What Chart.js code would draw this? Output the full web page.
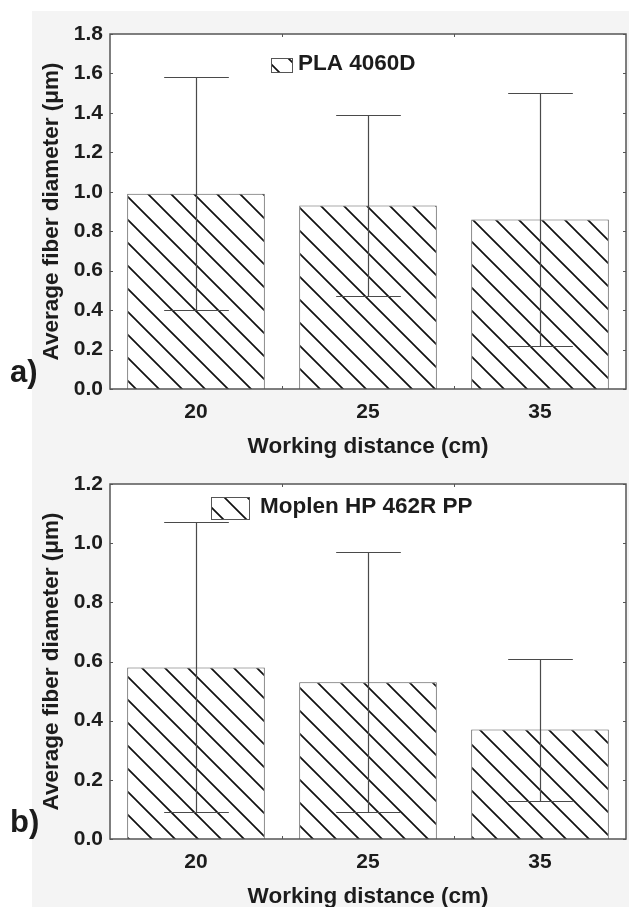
<!DOCTYPE html>
<html>
<head>
<meta charset="utf-8">
<script src="https://cdn.jsdelivr.net/npm/chart.js@4.4.1/dist/chart.umd.min.js"></script>
<style>
  html, body { margin: 0; padding: 0; background: #fff; }
  #page { position: relative; width: 629px; height: 907px; overflow: hidden; }
  #shade { position: absolute; left: 32px; top: 11px; right: 0; bottom: 0; background: #f4f4f4; }
  canvas { position: absolute; left: 0; }
  #chartA { top: 0; }
  #chartB { top: 457px; }
</style>
</head>
<body>
<div id="page">
  <div id="shade"></div>
  <canvas id="chartA" width="629" height="460"></canvas>
  <canvas id="chartB" width="629" height="453"></canvas>
</div>
<script>
// data
const distances = ['20', '25', '35'];

const plaMean = [0.99, 0.93, 0.86];
const plaLow = [0.40, 0.47, 0.22];
const plaHigh = [1.58, 1.39, 1.50];

const ppMean = [0.58, 0.53, 0.37];
const ppLow = [0.09, 0.09, 0.13];
const ppHigh = [1.07, 0.97, 0.61];

const FONT = "'Liberation Sans', Arial, sans-serif";
const INK = '#1c1c1c';
const FRAME = '#555';

// diagonal hatch fill "\\\"
const makeHatch = () => {
  const size = 23;
  const c = document.createElement('canvas');
  c.width = size;
  c.height = size;
  const g = c.getContext('2d');
  g.fillStyle = '#fff';
  g.fillRect(0, 0, size, size);
  g.strokeStyle = '#111';
  g.lineWidth = 1.7;
  g.beginPath();
  for (const k of [-size, 0, size]) {
    g.moveTo(k - 2, -2);
    g.lineTo(k + size + 2, size + 2);
  }
  g.stroke();
  return g.createPattern(c, 'repeat');
};

/**
 * frame, inward ticks, error bars, legend and panel letter
 */
const decor = {
  id: 'decor',
  beforeDraw: chart => {
    const {ctx, chartArea: a} = chart;
    ctx.save();
    ctx.fillStyle = '#fff';
    ctx.fillRect(a.left, a.top, a.right - a.left, a.bottom - a.top);
    ctx.restore();
  },
  afterDatasetsDraw: (chart, args, opts) => {
    const {ctx, chartArea: a} = chart;
    const x = chart.scales.x;
    const y = chart.scales.y;
    ctx.save();

    // error bars
    const meta = chart.getDatasetMeta(0);
    ctx.strokeStyle = '#4a4a4a';
    ctx.lineWidth = 1.2;
    meta.data.forEach((bar, i) => {
      const cx = Math.round(bar.x) + 0.5;
      const half = bar.width * 0.235;
      const yHi = Math.round(y.getPixelForValue(opts.high[i])) + 0.5;
      const yLo = Math.round(y.getPixelForValue(opts.low[i])) + 0.5;
      ctx.beginPath();
      ctx.moveTo(cx, yHi);
      ctx.lineTo(cx, yLo);
      ctx.moveTo(cx - half, yHi);
      ctx.lineTo(cx + half, yHi);
      ctx.moveTo(cx - half, yLo);
      ctx.lineTo(cx + half, yLo);
      ctx.stroke();
    });

    // frame
    ctx.strokeStyle = FRAME;
    ctx.lineWidth = 1.5;
    ctx.strokeRect(a.left, a.top, a.right - a.left, a.bottom - a.top);

    // inward ticks
    ctx.lineWidth = 1;
    ctx.beginPath();
    y.ticks.forEach(t => {
      const py = Math.round(y.getPixelForValue(t.value)) + 0.5;
      ctx.moveTo(a.left, py);
      ctx.lineTo(a.left + 3, py);
      ctx.moveTo(a.right, py);
      ctx.lineTo(a.right - 3, py);
    });
    for (let i = 0; i < distances.length - 1; i++) {
      const px = Math.round((x.getPixelForValue(i) + x.getPixelForValue(i + 1)) / 2) + 0.5;
      ctx.moveTo(px, a.top);
      ctx.lineTo(px, a.top + 3);
      ctx.moveTo(px, a.bottom);
      ctx.lineTo(px, a.bottom - 3);
    }
    ctx.stroke();

    // legend
    const lg = opts.legend;
    const bx = a.left + lg.dx;
    const by = a.top + lg.dy;
    ctx.fillStyle = chart.data.datasets[0].backgroundColor;
    ctx.fillRect(bx, by, lg.w, lg.h);
    ctx.strokeStyle = FRAME;
    ctx.strokeRect(bx + 0.5, by + 0.5, lg.w, lg.h);
    ctx.fillStyle = INK;
    ctx.font = `bold ${lg.size}px ${FONT}`;
    ctx.textAlign = 'left';
    ctx.textBaseline = 'middle';
    ctx.fillText(chart.data.datasets[0].label, bx + lg.w + lg.gap, by + lg.h / 2 - 1);

    // panel letter
    ctx.font = `bold 31px ${FONT}`;
    ctx.fillText(opts.letter, 10, a.bottom - 16);
    ctx.restore();
  }
};

const buildChart = (id, label, mean, low, high, max, letter, legend, top, bottomSpace) => {
  const ctx = document.getElementById(id).getContext('2d');
  return new Chart(ctx, {
    type: 'bar',
    data: {
      labels: distances,
      datasets: [{
        label: label,
        data: mean,
        backgroundColor: makeHatch(),
        borderColor: FRAME,
        borderWidth: 1,
        barPercentage: 0.8,
        categoryPercentage: 1.0
      }]
    },
    options: {
      responsive: false,
      animation: false,
      events: [],
      layout: { padding: { left: 32, top: top, right: 3, bottom: 0 } },
      plugins: {
        legend: { display: false },
        tooltip: { enabled: false },
        decor: { low: low, high: high, letter: letter, legend: legend }
      },
      scales: {
        x: {
          grid: { display: false, drawTicks: false },
          border: { display: false },
          ticks: { color: INK, font: { family: FONT, size: 21, weight: 'bold' }, padding: 11 },
          title: {
            display: true,
            text: 'Working distance (cm)',
            color: INK,
            font: { family: FONT, size: 22.5, weight: 'bold' },
            padding: { top: 0, bottom: 0 }
          },
          afterFit: s => { s.height = bottomSpace; }
        },
        y: {
          min: 0,
          max: max,
          grid: { display: false, drawTicks: false },
          border: { display: false },
          ticks: {
            stepSize: 0.2,
            color: INK,
            font: { family: FONT, size: 21, weight: 'bold' },
            padding: 7,
            callback: v => v.toFixed(1)
          },
          title: {
            display: true,
            text: 'Average fiber diameter (μm)',
            color: INK,
            font: { family: FONT, size: 22.5, weight: 'bold' },
            padding: { top: 6, bottom: 0 }
          },
          afterFit: s => { s.width = 78; }
        }
      }
    },
    plugins: [decor]
  });
};

buildChart('chartA', 'PLA 4060D', plaMean, plaLow, plaHigh, 1.8, 'a)',
  { dx: 161, dy: 24, w: 21, h: 14, gap: 6, size: 22.5 }, 34, 71);
buildChart('chartB', 'Moplen HP 462R PP', ppMean, ppLow, ppHigh, 1.2, 'b)',
  { dx: 101, dy: 13, w: 38, h: 22, gap: 11, size: 22.5 }, 27, 71);
</script>
</body>
</html>
